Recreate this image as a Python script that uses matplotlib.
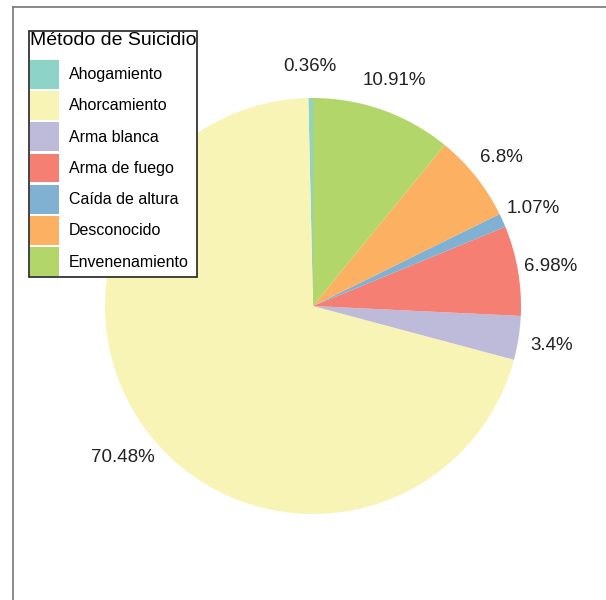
import matplotlib
matplotlib.use("Agg")
import matplotlib.pyplot as plt
from matplotlib.lines import Line2D

# ── Data ───────────────────────────────────────────────────────────────────────
metodos = ["Ahogamiento", "Ahorcamiento", "Arma blanca", "Arma de fuego",
           "Caída de altura", "Desconocido", "Envenenamiento"]
porcentajes = [0.36, 70.48, 3.4, 6.98, 1.07, 6.8, 10.91]
colores = ["#8dd3c7", "#f8f4b5", "#bebada", "#f47f72",
           "#80b1d3", "#fbb062", "#b3d66a"]

plt.rcParams["font.family"] = ["Liberation Sans", "DejaVu Sans"]

W, H = 606, 600
fig = plt.figure(figsize=(W / 100, H / 100), dpi=100)

# pie: centre (313, 306) px, radius 208 px
cx, cy, r = 313, 306, 208
ax = fig.add_axes([(cx - r) / W, 1 - (cy + r) / H, 2 * r / W, 2 * r / H])
wedges, texts = ax.pie(
    porcentajes,
    colors=colores,
    startangle=90,
    counterclock=True,
    labels=[f"{p:g}%" for p in porcentajes],
    labeldistance=1.16,
    textprops={"fontsize": 13.5, "color": "#222222"},
    wedgeprops={"linewidth": 0},
)
for t in texts:
    t.set_horizontalalignment("center")
    t.set_verticalalignment("center_baseline")
ax.set_xlim(-1, 1)
ax.set_ylim(-1, 1)
ax.set_aspect("equal")

# outer frame (top and left only)
fig.add_artist(Line2D([13 / W, 1], [1 - 7 / H, 1 - 7 / H], color="#777777",
                      linewidth=1.2, transform=fig.transFigure))
fig.add_artist(Line2D([13 / W, 13 / W], [1 - 7 / H, 0], color="#777777",
                      linewidth=1.2, transform=fig.transFigure))

leg = fig.legend(
    wedges, metodos,
    title="Método de Suicidio",
    loc="upper left",
    bbox_to_anchor=(29 / W, 1 - 31 / H),
    borderaxespad=0,
    fontsize=11.5,
    title_fontsize=14,
    handlelength=1.8,
    handleheight=2.4,
    handletextpad=0.65,
    labelspacing=0.15,
    borderpad=0.05,
    fancybox=False,
    framealpha=1,
    edgecolor="#222222",
)
leg.get_frame().set_linewidth(1.2)
leg._legend_box.align = "left"
leg._legend_box.sep = 8  # extra room under the title

plt.savefig("out.png", dpi=100)
